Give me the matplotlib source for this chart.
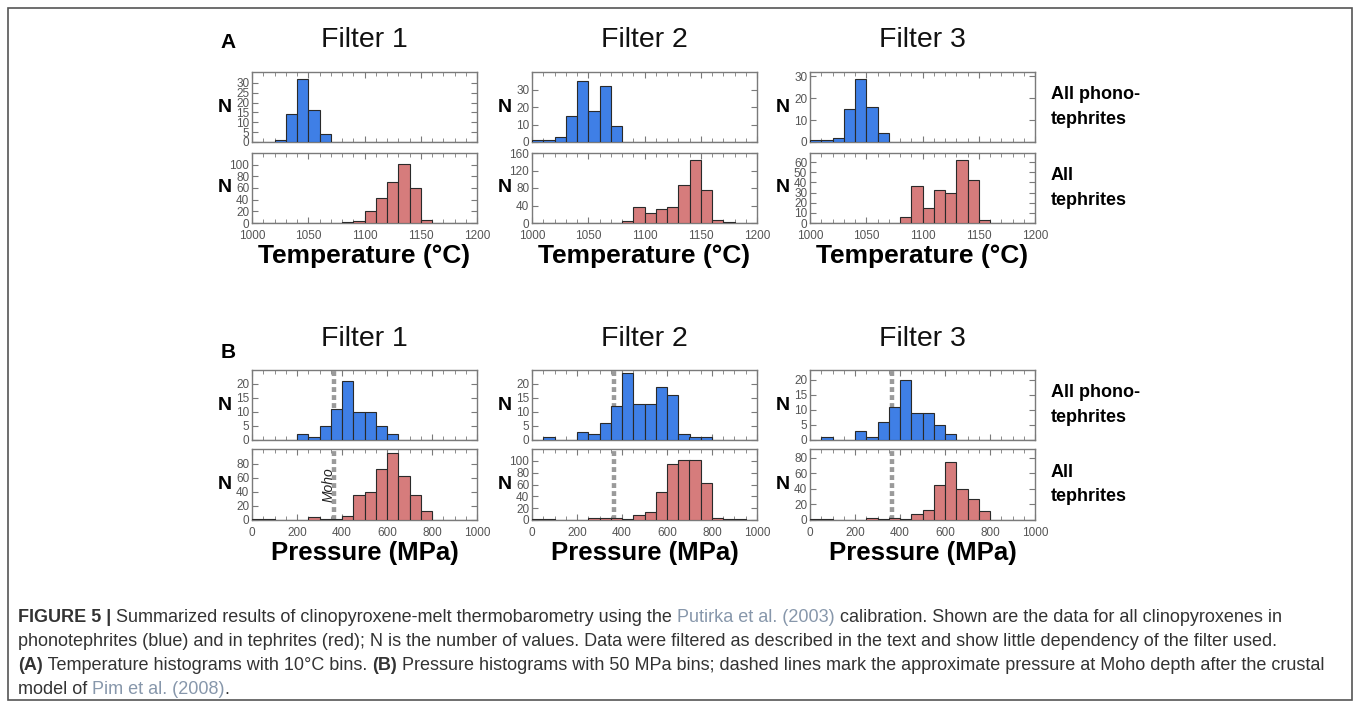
import numpy as np
import matplotlib
matplotlib.use("Agg")
import matplotlib.pyplot as plt
from matplotlib.patches import Rectangle

plt.rcParams['font.family'] = ['Liberation Sans', 'DejaVu Sans']

# ---------------- data ----------------
temp_edges = list(range(1000, 1200, 10))       # 10 °C bins (left edges)
pres_edges = list(range(0, 1000, 50))          # 50 MPa bins (left edges)

# Temperature histograms (counts per bin, 1000..1190)
t_f1_phono = [0, 0, 1, 14, 32, 16, 4, 0, 0, 0, 0, 0, 0, 0, 0, 0, 0, 0, 0, 0]
t_f1_teph  = [0, 0, 0, 0, 0, 0, 0, 0, 1, 3, 20, 43, 70, 101, 60, 5, 0, 0, 0, 0]
t_f2_phono = [1, 1, 3, 15, 35, 18, 32, 9, 0, 0, 0, 0, 0, 0, 0, 0, 0, 0, 0, 0]
t_f2_teph  = [0, 0, 0, 0, 0, 0, 0, 0, 5, 36, 23, 33, 36, 86, 145, 76, 7, 2, 0, 0]
t_f3_phono = [1, 1, 2, 15, 29, 16, 4, 0, 0, 0, 0, 0, 0, 0, 0, 0, 0, 0, 0, 0]
t_f3_teph  = [0, 0, 0, 0, 0, 0, 0, 0, 6, 36, 15, 33, 30, 62, 42, 3, 0, 0, 0, 0]

# Pressure histograms (counts per bin, 0..950)
p_f1_phono = [0, 0, 0, 0, 2, 1, 5, 11, 21, 10, 10, 5, 2, 0, 0, 0, 0, 0, 0, 0]
p_f1_teph  = [1, 1, 0, 0, 0, 4, 1, 2, 5, 35, 40, 73, 95, 62, 35, 13, 0, 0, 0, 0]
p_f2_phono = [0, 1, 0, 0, 3, 2, 6, 12, 24, 13, 13, 19, 16, 2, 1, 1, 0, 0, 0, 0]
p_f2_teph  = [1, 1, 0, 0, 0, 4, 3, 3, 1, 9, 14, 47, 95, 102, 101, 62, 4, 2, 1, 0]
p_f3_phono = [0, 1, 0, 0, 3, 1, 6, 11, 20, 9, 9, 5, 2, 0, 0, 0, 0, 0, 0, 0]
p_f3_teph  = [1, 1, 0, 0, 0, 3, 1, 2, 1, 8, 13, 45, 74, 40, 27, 11, 0, 0, 0, 0]

moho_pressure = 365

filters = ["Filter 1", "Filter 2", "Filter 3"]
row_labels = ["All phono-\ntephrites", "All\ntephrites"]

temp_top_ylim = [35.5, 40, 32]
temp_bot_ylim = [120, 160, 69]
temp_top_ticks = [[0, 5, 10, 15, 20, 25, 30], [0, 10, 20, 30], [0, 10, 20, 30]]
temp_bot_ticks = [[0, 20, 40, 60, 80, 100], [0, 40, 80, 120, 160], [0, 10, 20, 30, 40, 50, 60]]
pres_top_ylim = [25, 25, 23.2]
pres_bot_ylim = [101, 120, 91]
pres_top_ticks = [[0, 5, 10, 15, 20]] * 3
pres_bot_ticks = [[0, 20, 40, 60, 80], [0, 20, 40, 60, 80, 100], [0, 20, 40, 60, 80]]

temp_xticks = [1000, 1050, 1100, 1150, 1200]
pres_xticks = [0, 200, 400, 600, 800, 1000]

BLUE = '#3f7fe6'
RED = '#d67c7c'
EDGE = '#2a2a2a'
SPINE = '#7a7a7a'
TICKC = '#555555'

W, H = 1357, 705
fig = plt.figure(figsize=(W / 100, H / 100), dpi=100)

def fx(px):
    return px / W

def fy(py):
    return 1 - py / H

# frame around figure
fig.add_artist(Rectangle((fx(8), fy(700)), fx(1352) - fx(8), fy(8) - fy(700),
                         transform=fig.transFigure, fill=False,
                         edgecolor='#555555', linewidth=1.2))

col_left = [252, 532, 810]
col_width = 225

def make_ax(left, top, bottom):
    ax = fig.add_axes([fx(left), fy(bottom), fx(col_width), (bottom - top) / H])
    for s in ax.spines.values():
        s.set_color(SPINE)
        s.set_linewidth(1.0)
    ax.tick_params(which='both', direction='in', top=True, right=True,
                   colors=SPINE, labelcolor=TICKC, labelsize=8.5)
    ax.tick_params(axis='y', pad=2)
    ax.tick_params(axis='x', pad=5)
    ax.tick_params(which='major', length=4)
    ax.tick_params(which='minor', length=3)
    return ax

def hist(ax, edges, counts, width, color):
    ax.bar(edges, counts, width=width, align='edge', color=color,
           edgecolor=EDGE, linewidth=0.8, zorder=3)

temp_data = [(t_f1_phono, t_f1_teph), (t_f2_phono, t_f2_teph), (t_f3_phono, t_f3_teph)]
pres_data = [(p_f1_phono, p_f1_teph), (p_f2_phono, p_f2_teph), (p_f3_phono, p_f3_teph)]

def style_pair(ax_top, ax_bot, xlim, xticks, minor_step):
    for ax in (ax_top, ax_bot):
        ax.set_xlim(*xlim)
        ax.set_xticks(xticks)
        ax.set_xticks(np.arange(xlim[0], xlim[1] + 1e-9, minor_step), minor=True)
    ax_top.tick_params(labelbottom=False)

def n_label(ax, left, top, bottom):
    fig.text(fx(left - 27), fy((top + bottom) / 2), "N", fontsize=14,
             fontweight='bold', ha='center', va='center')

# ----- Panel A: temperature -----
A_top = (72, 142)
A_bot = (153, 223)
for i in range(3):
    L = col_left[i]
    at = make_ax(L, *A_top)
    ab = make_ax(L, *A_bot)
    hist(at, temp_edges, temp_data[i][0], 10, BLUE)
    hist(ab, temp_edges, temp_data[i][1], 10, RED)
    at.set_ylim(0, temp_top_ylim[i])
    ab.set_ylim(0, temp_bot_ylim[i])
    at.set_yticks(temp_top_ticks[i])
    ab.set_yticks(temp_bot_ticks[i])
    style_pair(at, ab, (1000, 1200), temp_xticks, 10)
    n_label(at, L, *A_top)
    n_label(ab, L, *A_bot)
    fig.text(fx(L + col_width / 2), fy(40), filters[i], fontsize=20.5,
             ha='center', va='center', color='#111111')
    fig.text(fx(L + col_width / 2), fy(256), "Temperature (°C)", fontsize=19,
             fontweight='bold', ha='center', va='center')

# ----- Panel B: pressure -----
B_top = (370, 440)
B_bot = (449, 520)
for i in range(3):
    L = col_left[i]
    bt = make_ax(L, *B_top)
    bb = make_ax(L, *B_bot)
    hist(bt, pres_edges, pres_data[i][0], 50, BLUE)
    hist(bb, pres_edges, pres_data[i][1], 50, RED)
    bt.set_ylim(0, pres_top_ylim[i])
    bb.set_ylim(0, pres_bot_ylim[i])
    bt.set_yticks(pres_top_ticks[i])
    bb.set_yticks(pres_bot_ticks[i])
    style_pair(bt, bb, (0, 1000), pres_xticks, 50)
    for ax in (bt, bb):
        ax.axvline(moho_pressure, color='#9a9a9a', linewidth=3.2,
                   linestyle=(0, (1.1, 0.7)), zorder=2)
    if i == 0:
        bb.text(moho_pressure - 26, bb.get_ylim()[1] * 0.5, "Moho", rotation=90,
                fontstyle='italic', fontsize=10, ha='center', va='center',
                color='#222222', zorder=4)
    n_label(bt, L, *B_top)
    n_label(bb, L, *B_bot)
    fig.text(fx(L + col_width / 2), fy(339), filters[i], fontsize=20.5,
             ha='center', va='center', color='#111111')
    fig.text(fx(L + col_width / 2), fy(553), "Pressure (MPa)", fontsize=18.5,
             fontweight='bold', ha='center', va='center')

# panel letters
fig.text(fx(228), fy(43), "A", fontsize=15, fontweight='bold', ha='center', va='center')
fig.text(fx(228), fy(352), "B", fontsize=15, fontweight='bold', ha='center', va='center')

# row labels
for top, bot, lab in [(A_top[0], A_top[1], row_labels[0]), (A_bot[0], A_bot[1], row_labels[1]),
                      (B_top[0], B_top[1], row_labels[0]), (B_bot[0], B_bot[1], row_labels[1])]:
    fig.text(fx(1051), fy((top + bot) / 2), lab, fontsize=13, fontweight='bold',
             ha='left', va='center', linespacing=1.6)

# ----- caption -----
CAP = '#333333'
LINK = '#8797ab'
cap_size = 13
caption_lines = [
    [("FIGURE 5 | ", 'bold', CAP), ("Summarized results of clinopyroxene-melt thermobarometry using the ", 'normal', CAP),
     ("Putirka et al. (2003)", 'normal', LINK),
     (" calibration. Shown are the data for all clinopyroxenes in", 'normal', CAP)],
    [("phonotephrites (blue) and in tephrites (red); N is the number of values. Data were filtered as described in the text and show little dependency of the filter used.", 'normal', CAP)],
    [("(A)", 'bold', CAP), (" Temperature histograms with 10°C bins. ", 'normal', CAP), ("(B)", 'bold', CAP),
     (" Pressure histograms with 50 MPa bins; dashed lines mark the approximate pressure at Moho depth after the crustal", 'normal', CAP)],
    [("model of ", 'normal', CAP), ("Pim et al. (2008)", 'normal', LINK), (".", 'normal', CAP)],
]
line_y = [617, 641, 665, 689]

fig.canvas.draw()
renderer = fig.canvas.get_renderer()
for pieces, yy in zip(caption_lines, line_y):
    x = 18.0
    for txt, wt, col in pieces:
        t = fig.text(fx(x), fy(yy), txt, fontsize=cap_size, fontweight=wt, color=col,
                     ha='left', va='center')
        bb = t.get_window_extent(renderer=renderer)
        x += bb.width

fig.savefig("out.png", dpi=100)
